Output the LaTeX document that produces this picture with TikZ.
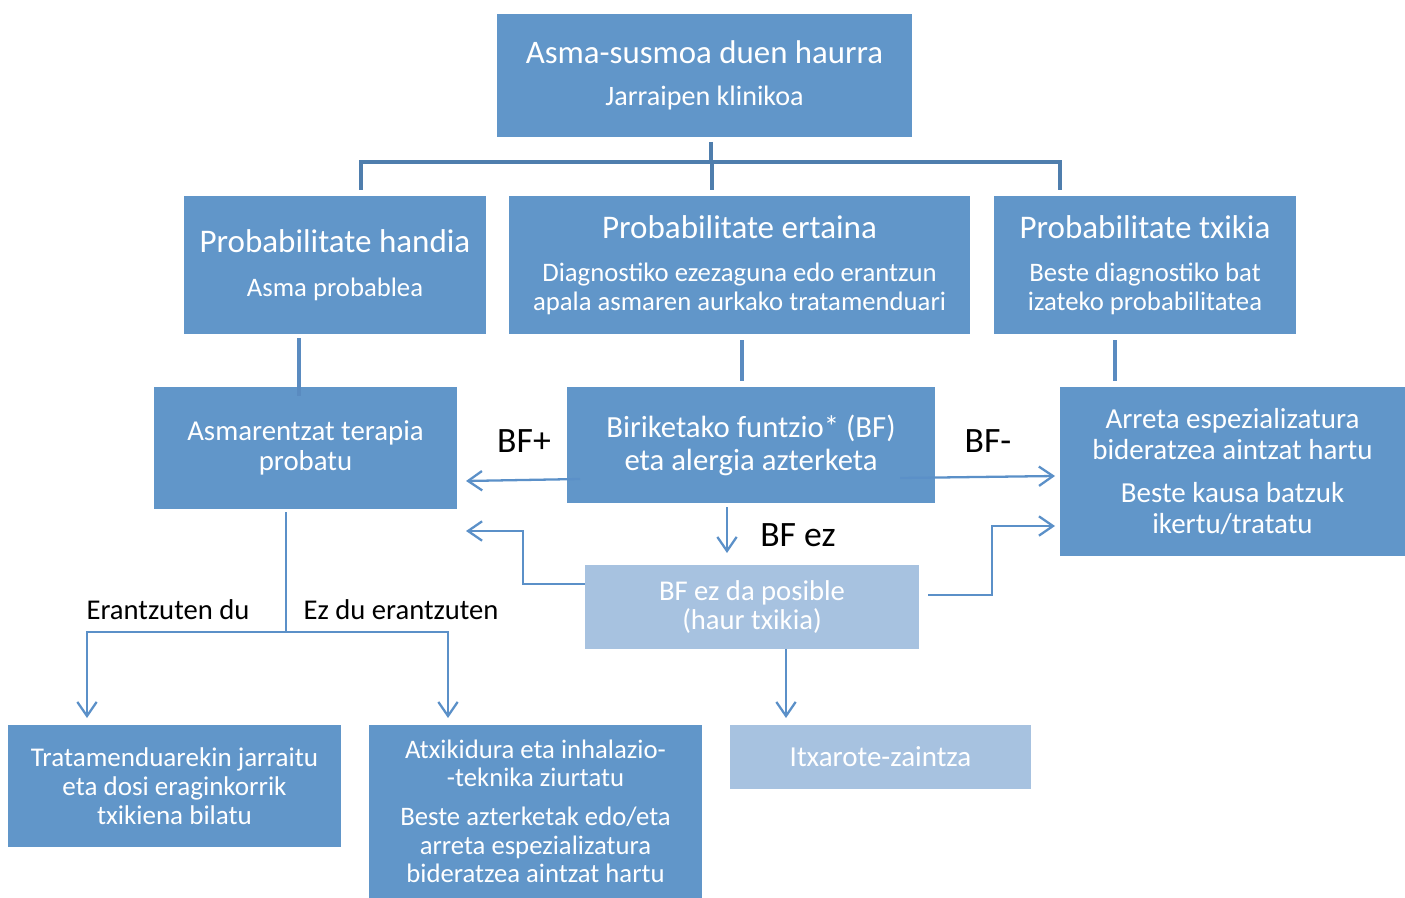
\documentclass[tikz,border=0pt]{standalone}
\usepackage{fontspec}
\setmainfont{Carlito}
\usepackage{tikz}
\usetikzlibrary{arrows,arrows.meta}

\definecolor{boxblue}{HTML}{6196C9}
\definecolor{lightblue}{HTML}{A7C2E0}
\definecolor{treeblue}{HTML}{4F7EAD}
\definecolor{stubblue}{HTML}{5A8BC0}
\definecolor{arrowblue}{HTML}{5B90C8}

\begin{document}
\begin{tikzpicture}[x=0.02cm,y=-0.02cm,>={Straight Barb[length=8pt,width=11pt]}]
    \tikzstyle{box}=[fill=boxblue,text=white,align=center,inner sep=0pt,font=\fontsize{15.2}{16.2}\selectfont]
    \tikzstyle{light}=[box,fill=lightblue]
    \tikzstyle{tree}=[draw=treeblue,line width=2.3pt]
    \tikzstyle{stub}=[draw=stubblue,line width=2.2pt]
    \tikzstyle{flow}=[->,draw=arrowblue,line width=1.3pt]
    \tikzstyle{lbl}=[text=black,inner sep=0pt,font=\fontsize{16.3}{18}\selectfont]
    \useasboundingbox (0,0) rectangle (1405,898);

    \node[box, minimum width=8.3cm,  minimum height=2.46cm] (haur) at (704.5,75.5)
        {{\fontsize{18.7}{20}\selectfont Asma-susmoa duen haurra}\\[8pt] {\fontsize{16}{17}\selectfont Jarraipen klinikoa}};
    \node[box, minimum width=6.04cm, minimum height=2.76cm] (handia) at (335,265)
        {{\fontsize{18.8}{20}\selectfont Probabilitate handia}\\[9pt] Asma probablea};
    \node[box, minimum width=9.22cm, minimum height=2.76cm] (ertaina) at (739.5,265)
        {{\fontsize{18.8}{20}\selectfont Probabilitate ertaina}\\[8.5pt] Diagnostiko ezezaguna edo erantzun\\ apala asmaren aurkako tratamenduari};
    \node[box, minimum width=6.04cm, minimum height=2.76cm] (txikia) at (1145,265)
        {{\fontsize{18.8}{20}\selectfont Probabilitate txikia}\\[8.5pt] Beste diagnostiko bat\\ izateko probabilitatea};
    \node[box, minimum width=6.06cm, minimum height=2.44cm, font=\fontsize{16.4}{17}\selectfont] (terapia) at (305.5,448)
        {Asmarentzat terapia\\ probatu};
    \node[box, minimum width=7.36cm, minimum height=2.32cm, font=\fontsize{17.5}{18.7}\selectfont] (funtzio) at (751,445)
        {Biriketako funtzio* (BF)\\ eta alergia azterketa};
    \node[box, minimum width=6.9cm,  minimum height=3.38cm, font=\fontsize{16.5}{17.6}\selectfont] (arreta) at (1232.5,471.5)
        {Arreta espezializatura\\ bideratzea aintzat hartu\\[7pt] Beste kausa batzuk\\ ikertu/tratatu};
    \node[light, minimum width=6.68cm, minimum height=1.68cm, font=\fontsize{16.3}{17}\selectfont] (posible) at (752,607)
        {BF ez da posible\\ (haur txikia)};
    \node[light, minimum width=6.02cm, minimum height=1.28cm, font=\fontsize{16.5}{17}\selectfont] (itxarote) at (880.5,757)
        {Itxarote-zaintza};
    \node[box, minimum width=6.66cm, minimum height=2.44cm, font=\fontsize{15.4}{16.4}\selectfont] (jarraitu) at (174.5,786)
        {Tratamenduarekin jarraitu\\ eta dosi eraginkorrik\\ txikiena bilatu};
    \node[box, minimum width=6.66cm, minimum height=3.46cm] (atxikidura) at (535.5,811.5)
        {Atxikidura eta inhalazio-\\ -teknika ziurtatu\\[6pt] Beste azterketak edo/eta\\ arreta espezializatura\\ bideratzea aintzat hartu};

    % labels
    \node[lbl, font=\fontsize{20.3}{22}\selectfont] (bfplus)  at (524,441) {BF+};
    \node[lbl, font=\fontsize{20.3}{22}\selectfont] (bfminus) at (988,441) {BF-};
    \node[lbl, font=\fontsize{20.3}{22}\selectfont] (bfez)    at (798,535) {BF ez};
    \node[lbl] (bai) at (168,610) {Erantzuten du};
    \node[lbl] (ez)  at (401,610) {Ez du erantzuten};

    % tree from the top box
    \coordinate (t0) at (711,142);
    \coordinate (tl) at (361,190);
    \coordinate (tm) at (712,190);
    \coordinate (tr) at (1060,190);
    \draw[tree] (t0) -- (711,162);
    \draw[tree] (tl) |- (tr |- 0,162) -- (tr);
    \draw[tree] (tm) -- (712,162);

    % stubs
    \draw[stub] (handia.south -| 299,0) ++(0,4) -- (299,396);
    \draw[stub] (ertaina.south -| 742,0) ++(0,6) -- (742,381);
    \draw[stub] (txikia.south -| 1115,0) ++(0,6) -- (1115,381);

    % arrows
    \coordinate (pl) at (466,481);
    \draw[flow] (580,479) -- (pl);
    \coordinate (pr) at (1055,476);
    \draw[flow] (900,478) -- (pr);
    \coordinate (pd) at (727,553);
    \draw[flow] (funtzio.south -| 727,0) ++(0,4) -- (pd);
    \coordinate (ql) at (466,531);
    \draw[flow] (posible.west |- 0,584) -| (523,531) -- (ql);
    \coordinate (qr) at (1055,526);
    \draw[flow] (posible.east |- 0,595) ++(9,0) -| (992,526) -- (qr);
    \coordinate (qd) at (786,718);
    \draw[flow] (posible.south -| 786,0) -- (qd);
    \coordinate (rl) at (87,718);
    \coordinate (rr) at (448,718);
    \draw[flow, -] (terapia.south -| 286,0) ++(0,3) -- (286,632);
    \draw[flow] (286,632) -| (rl);
    \draw[flow] (286,632) -| (rr);
\end{tikzpicture}
\end{document}
